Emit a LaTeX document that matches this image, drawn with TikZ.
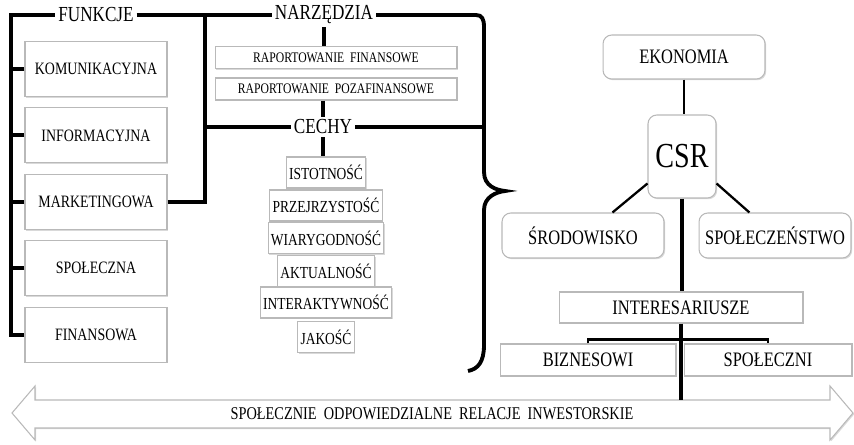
\documentclass[tikz,border=0pt]{standalone}
\usepackage{fontspec}
\setmainfont[FakeStretch=0.8]{Liberation Serif}
\usetikzlibrary{shadows}

\tikzset{
  bus/.style={line width=2.2pt},
  mid/.style={line width=1.6pt},
  link/.style={line width=1.3pt},
  fbox/.style={draw=gray!55, fill=white, line width=0.6pt,
    drop shadow={shadow xshift=0.7pt, shadow yshift=-0.7pt, opacity=0.3}},
  rbox/.style={fbox, rounded corners=5pt},
  head/.style={inner sep=1.5pt, font=\fontsize{12.2}{14}\selectfont},
}

\begin{document}
\begin{tikzpicture}[x=0.02cm,y=-0.02cm]
    \useasboundingbox (0,0) rectangle (854,444);
    \coordinate (tl) at (11,15);
    \coordinate (jn) at (205,15);
    \coordinate (bt) at (476,15);
    \coordinate (br) at (484,127);
    \coordinate (arr) at (681,400);
    % nagłówki
    \node[head] (funkcje) at (96,15) {FUNKCJE};
    \node[head] (narz) at (324,15) {NARZĘDZIA};
    \node[head] (cechy) at (323,127) {CECHY};
    % funkcje
    \foreach \n/\t [count=\i from 0] in {kom/KOMUNIKACYJNA,inf/INFORMACYJNA,mark/MARKETINGOWA,spol/SPOŁECZNA,fin/FINANSOWA}
        \node[fbox, minimum width=2.84cm, minimum height=1.1cm, font=\fontsize{9.9}{12}\selectfont] (\n) at (96,69+66.4*\i) {\t};
    \draw[bus] (fin.west) -| (tl) -- (funkcje.west); % lewa szyna
    \foreach \n in {kom,inf,mark,spol}
        \draw[bus] (\n.west) -- (\n.west -| tl);
    \draw[bus] (funkcje.east) -- (narz.west);
    \draw[bus] (mark.east) -| (jn);
    \draw[bus] (cechy.west) -- (cechy.west -| jn);
    % narzędzia
    \node[fbox, minimum width=4.84cm, minimum height=0.42cm, font=\fontsize{8.3}{9}\selectfont] (rap1) at (336,57.5) {RAPORTOWANIE\ \ FINANSOWE};
    \node[fbox, minimum width=4.84cm, minimum height=0.44cm, font=\fontsize{8.3}{9}\selectfont] (rap2) at (336,89) {RAPORTOWANIE\ \ POZAFINANSOWE};
    \draw[bus] (narz.south) -- (narz.south |- rap1.north);
    \draw[bus] (rap2.south -| cechy.north) -- (cechy.north);
    % cechy
    \foreach \n/\t/\y in {ist/ISTOTNOŚĆ/172.5,prz/PRZEJRZYSTOŚĆ/205.5,wia/WIARYGODNOŚĆ/238,akt/AKTUALNOŚĆ/271,inte/INTERAKTYWNOŚĆ/302.5,jak/JAKOŚĆ/337}
        \node[fbox, minimum height=0.62cm, inner xsep=1.5pt, font=\fontsize{9.6}{11}\selectfont] (\n) at (326,\y) {\t};
    \draw[bus] (cechy.south) -- (cechy.south |- ist.north);
    % klamra
    \draw[bus] (narz.east) -- (bt) .. controls (482,15) and (484,19) .. (484,27) -- (484,172)
        .. controls (484,186) and (496,190) .. (505,191)
        .. controls (496,192) and (484,197) .. (484,210) -- (484,345)
        .. controls (484,362) and (478,369) .. (468,371);
    \draw[bus] (cechy.east) -- (br);
    % strzałka
    \draw[fbox] (12,413) -- (35,386) -- (35,400) -- (830,400) -- (830,386) -- (853,413) -- (830,440) -- (830,428) -- (35,428) -- (35,440) -- cycle;
    \node[font=\fontsize{10.2}{12}\selectfont] (rel) at (432,414) {SPOŁECZNIE\ \ ODPOWIEDZIALNE\ \ RELACJE\ \ INWESTORSKIE};
    % csr
    \node[rbox, minimum width=3.24cm, minimum height=0.88cm, font=\fontsize{11.7}{14}\selectfont] (eko) at (684,57) {EKONOMIA};
    \node[rbox, minimum width=1.36cm, minimum height=1.66cm, font=\fontsize{20}{24}\selectfont] (csr) at (682,156.5) {CSR};
    \node[rbox, minimum width=3.24cm, minimum height=0.9cm, font=\fontsize{11.7}{14}\selectfont] (srod) at (583,235.5) {ŚRODOWISKO};
    \node[rbox, minimum width=3.04cm, minimum height=0.9cm, inner xsep=2pt, font=\fontsize{11.7}{14}\selectfont] (spo) at (775,235.5) {SPOŁECZEŃSTWO};
    \node[fbox, minimum width=4.88cm, minimum height=0.62cm, font=\fontsize{11.7}{14}\selectfont] (inter) at (681,307.5) {INTERESARIUSZE};
    \node[fbox, minimum width=3.52cm, minimum height=0.64cm, font=\fontsize{11.7}{14}\selectfont] (bizn) at (588,360) {BIZNESOWI};
    \node[fbox, minimum width=3.36cm, minimum height=0.64cm, font=\fontsize{11.7}{14}\selectfont] (spn) at (768,360) {SPOŁECZNI};
    \draw[link] (eko.south) -- (eko.south |- csr.north);
    \draw[link] (csr.218) -- (srod.38);
    \draw[link] (csr.322) -- (spo.138);
    \draw[bus] (csr.south) -- (csr.south |- inter.north);
    \draw[mid] (bizn.north) -- ++(0,-4) -| (spn.north);
    \draw[bus] (inter.south) -- (arr);
\end{tikzpicture}
\end{document}
